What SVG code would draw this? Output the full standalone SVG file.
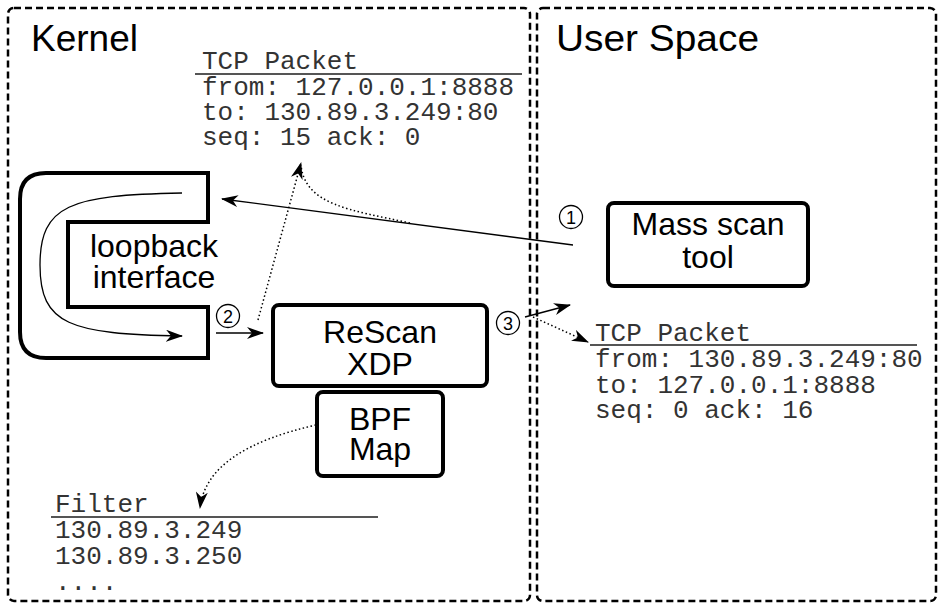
<svg xmlns="http://www.w3.org/2000/svg" width="939" height="605" viewBox="0 0 939 605">
<style>
.panel{fill:none;stroke:#000;stroke-width:2.5;stroke-dasharray:7 4}
.box{fill:#fff;stroke:#000;stroke-width:4}
.lbl{font-family:"Liberation Sans",Arial,sans-serif;font-size:32px;fill:#000;text-anchor:middle}
.title{font-family:"Liberation Sans",Arial,sans-serif;font-size:37px;fill:#000}
.mono{font-family:"Liberation Mono","Courier New",monospace;font-size:26px;fill:#333}
.uline{stroke:#555;stroke-width:2}
.line{fill:none;stroke:#000;stroke-width:1.3}
.dot{fill:none;stroke:#000;stroke-width:1.5;stroke-dasharray:1.5 2.5}
.circ{fill:#fff;stroke:#000;stroke-width:1.3}
.num{font-family:"Liberation Sans",Arial,sans-serif;font-size:18px;fill:#000;text-anchor:middle}
</style>
<defs>
<marker id="arr" markerWidth="17" markerHeight="12" refX="16" refY="6" orient="auto" markerUnits="userSpaceOnUse">
<path d="M0,0 L17,6 L0,12 L5,6 Z" fill="#000"/>
</marker>
</defs>
<rect width="939" height="605" fill="#fff"/>
<g id="kernel-panel">
<rect class="panel" x="8" y="8" width="522" height="593" rx="6"/>
<text class="title" x="31" y="51">Kernel</text>
</g>
<g id="user-panel">
<rect class="panel" x="537" y="8" width="399" height="593" rx="6"/>
<text class="title" x="556" y="51" textLength="203" lengthAdjust="spacingAndGlyphs">User Space</text>
</g>
<g id="loopback">
<path class="box" d="M208,173 L46,173 Q20,173 20,199 L20,332 Q20,358 46,358 L208,358 L208,307 L68,307 L68,222 L208,222 Z"/>
<text class="lbl" x="154" y="257">loopback</text>
<text class="lbl" x="154" y="288">interface</text>
</g>
<g id="rescan">
<rect class="box" x="273" y="305" width="214" height="81" rx="6"/>
<text class="lbl" x="380" y="343">ReScan</text>
<text class="lbl" x="380" y="375">XDP</text>
</g>
<g id="bpfmap">
<rect class="box" x="317" y="392" width="126" height="84" rx="6"/>
<text class="lbl" x="380" y="430">BPF</text>
<text class="lbl" x="380" y="460">Map</text>
</g>
<g id="massscan">
<rect class="box" x="608" y="203" width="200" height="83" rx="6"/>
<text class="lbl" x="708" y="235">Mass scan</text>
<text class="lbl" x="708" y="268">tool</text>
</g>
<g id="packet-out">
<text class="mono" x="202" y="69">TCP Packet</text>
<line class="uline" x1="195" y1="74" x2="522" y2="74"/>
<text class="mono" x="202" y="95">from: 127.0.0.1:8888</text>
<text class="mono" x="202" y="120">to: 130.89.3.249:80</text>
<text class="mono" x="202" y="145">seq: 15 ack: 0</text>
</g>
<g id="packet-in">
<text class="mono" x="595" y="341">TCP Packet</text>
<line class="uline" x1="590" y1="345" x2="917" y2="345"/>
<text class="mono" x="595" y="367">from: 130.89.3.249:80</text>
<text class="mono" x="595" y="393">to: 127.0.0.1:8888</text>
<text class="mono" x="595" y="418">seq: 0 ack: 16</text>
</g>
<g id="filter">
<text class="mono" x="55" y="512">Filter</text>
<line class="uline" x1="51" y1="517" x2="378" y2="517"/>
<text class="mono" x="55" y="538">130.89.3.249</text>
<text class="mono" x="55" y="564">130.89.3.250</text>
<text class="mono" x="55" y="590">....</text>
</g>
<g id="connectors">
<path class="line" d="M573,245 L222,199" marker-end="url(#arr)"/>
<path class="line" d="M182,193 C70,195 40,205 40,265 C40,325 70,334 182,336" marker-end="url(#arr)"/>
<path class="line" d="M216,333 L263,333" marker-end="url(#arr)"/>
<path class="line" d="M525,317 L570,305" marker-end="url(#arr)"/>
<path class="dot" d="M258,320 L301,163" marker-end="url(#arr)"/>
<path class="dot" d="M410,223 C350,210 305,205 301,165"/>
<path class="dot" d="M533,317 L588,342" marker-end="url(#arr)"/>
<path class="dot" d="M316,425 C250,440 205,465 200,508" marker-end="url(#arr)"/>
</g>
<g id="step1">
<circle class="circ" cx="571" cy="217" r="11.5"/>
<text class="num" x="571" y="223.5">1</text>
</g>
<g id="step2">
<circle class="circ" cx="228" cy="316" r="11.5"/>
<text class="num" x="228" y="322.5">2</text>
</g>
<g id="step3">
<circle class="circ" cx="508" cy="323" r="11.5"/>
<text class="num" x="508" y="329.5">3</text>
</g>
</svg>
